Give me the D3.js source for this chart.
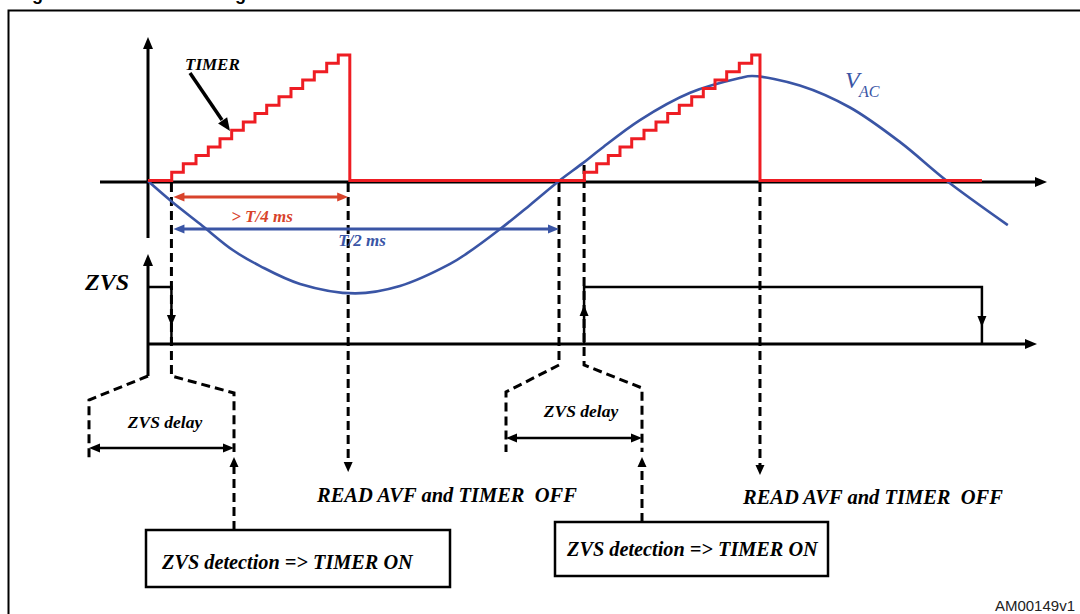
<!DOCTYPE html>
<html><head><meta charset="utf-8">
<script src="https://cdn.jsdelivr.net/npm/d3@7"></script>
<style>body{margin:0;background:#fff}svg{display:block}</style>
</head><body>
<script>
// ---- data (time in ms, VAC normalised to peak) ----
const vacTime  = [0, 0.56, 1.27, 2.07, 2.73, 3.70, 5.04, 6.13, 7.35, 7.76, 8.56, 9.29, 10.0, 10.58, 11.0, 11.97, 13.19, 14.40, 14.70, 15.86, 17.08, 18.30, 19.44, 20.92];
const vacValue = [0, -0.19, -0.41, -0.66, -0.81, -0.98, -1.07, -1.0, -0.79, -0.69, -0.46, -0.23, 0, 0.17, 0.30, 0.58, 0.84, 0.98, 1.0, 0.91, 0.70, 0.37, 0, -0.42];
const timerCount = [1,2,3,4,5,6,7,8,9,10,11,12,13,14,15];
const timer1RiseTime = [0.577, 0.859, 1.168, 1.467, 1.752, 2.036, 2.319, 2.603, 2.888, 3.187, 3.479, 3.764, 4.046, 4.348, 4.630];
const timer2RiseTime = [10.616, 10.917, 11.200, 11.484, 11.769, 12.068, 12.360, 12.645, 12.927, 13.229, 13.511, 13.796, 14.080, 14.387, 14.689];
const timerOffTime = [4.91, 14.89];
const timerEndTime = 20.29;
const zvsEdgeTime = [0.57, 10.61, 20.29];   // fall, rise, fall
const zeroCrossTime = [0, 10];
const readTime = [4.87, 14.89];
const readLabel = "READ AVF and TIMER  OFF";
const detectLabel = "ZVS detection => TIMER ON";
const delayLabel = "ZVS delay";

const W = 1080, H = 614;
const RED = "#ee1d23", BLUE = "#3a55a5", ORANGE = "#d8432b";
const SERIF = "'Liberation Serif','Times New Roman',serif";
const SANS = "'Liberation Sans',Arial,sans-serif";

const svg = d3.select("body").append("svg").attr("width", W).attr("height", H);

const x  = d3.scaleLinear().domain([0, 10]).range([148, 559]);
const yV = d3.scaleLinear().domain([0, 1]).range([181, 76]);
const yT = d3.scaleLinear().domain([0, 15]).range([180.5, 55]);
const yZ = d3.scaleLinear().domain([0, 1]).range([344, 287]);

function poly(pts, color, w, dash) {
  const p = svg.append("path").attr("d", d3.line()(pts)).attr("fill", "none")
    .attr("stroke", color).attr("stroke-width", w).attr("stroke-linejoin", "miter");
  if (dash) p.attr("stroke-dasharray", dash);
  return p;
}
function head(tx, ty, ang, color, len, wid) {
  const c = Math.cos(ang), s = Math.sin(ang);
  const bx = tx - c * len, by = ty - s * len;
  const pts = [[tx, ty], [bx - s * wid / 2, by + c * wid / 2], [bx + s * wid / 2, by - c * wid / 2]];
  svg.append("path").attr("d", d3.line()(pts) + "Z").attr("fill", color).attr("stroke", "none");
}
function dblArrow(x1, x2, y, color, w) {
  poly([[x1 + 6, y], [x2 - 6, y]], color, w);
  head(x1, y, Math.PI, color, 11, 9);
  head(x2, y, 0, color, 11, 9);
}
function text(str, tx, ty, size, opts = {}) {
  return svg.append("text").attr("x", tx).attr("y", ty).text(str)
    .attr("font-family", opts.family || SERIF).attr("font-size", size)
    .attr("font-weight", opts.weight || "bold").attr("font-style", opts.style || "italic")
    .attr("fill", opts.color || "#000").attr("text-anchor", opts.anchor || "start")
    .style("white-space", "pre");
}

// frame & (cropped) title
poly([[8.5, 614], [8.5, 10.5], [1080, 10.5]], "#000", 2);
text("Figure 3.", 16, -0.5, 18, {family: SANS, style: "normal"});
text("ZVS signal detection", 180, -0.5, 18, {family: SANS, style: "normal"});

// ---- top axes ----
poly([[100, 182], [1038, 182]], "#000", 3);
head(1047, 182, 0, "#000", 12, 10);
poly([[x(0), 238], [x(0), 46]], "#000", 3);
head(x(0), 37, -Math.PI / 2, "#000", 12, 10);

// ---- ZVS axes ----
poly([[x(0), 344], [1028, 344]], "#000", 3);
head(1037, 344, 0, "#000", 12, 10);
poly([[x(0), 376], [x(0), 263]], "#000", 3);
head(x(0), 254, -Math.PI / 2, "#000", 12, 10);

// ---- dashed guides ----
const DASH = "9,5";
const z0 = x(zeroCrossTime[0]), z1 = x(zeroCrossTime[1]);
const f1 = x(zvsEdgeTime[0]), r2 = x(zvsEdgeTime[1]);
poly([[z0, 376], [89, 400], [89, 458]], "#000", 3, DASH);
poly([[f1, 183], [f1, 376], [234, 393], [234, 452]], "#000", 3, DASH);
poly([[234, 530], [234, 466]], "#000", 3, DASH);
head(234, 457, -Math.PI / 2, "#000", 10, 9);
poly([[x(readTime[0]), 183], [x(readTime[0]), 462]], "#000", 3, DASH);
head(x(readTime[0]), 472, Math.PI / 2, "#000", 10, 9);
poly([[z1, 183], [z1, 365], [506, 392], [506, 452]], "#000", 3, DASH);
poly([[r2, 165], [r2, 365], [642, 388], [642, 452]], "#000", 3, DASH);
poly([[642, 522], [642, 466]], "#000", 3, DASH);
head(642, 457, -Math.PI / 2, "#000", 10, 9);
poly([[x(readTime[1]), 183], [x(readTime[1]), 465]], "#000", 3, DASH);
head(x(readTime[1]), 475, Math.PI / 2, "#000", 10, 9);

// ---- ZVS signal ----
poly([[x(0), yZ(1)], [f1, yZ(1)], [f1, yZ(0)]], "#000", 2.5);
head(f1, 326, Math.PI / 2, "#000", 11, 9);
const f2 = x(zvsEdgeTime[2]);
poly([[r2, yZ(0)], [r2, yZ(1)], [f2, yZ(1)], [f2, yZ(0)]], "#000", 2.5);
head(r2, 305, -Math.PI / 2, "#000", 11, 9);
head(f2, 327, Math.PI / 2, "#000", 11, 9);

// ---- VAC ----
const vac = vacTime.map((t, i) => [x(t), yV(vacValue[i])]);
svg.append("path").attr("d", d3.line().curve(d3.curveCatmullRom)(vac))
  .attr("fill", "none").attr("stroke", BLUE).attr("stroke-width", 2.6);

// ---- TIMER staircase ----
const tp = [[x(0), yT(0)]];
[timer1RiseTime, timer2RiseTime].forEach((rise, j) => {
  rise.forEach((t, i) => { tp.push([x(t), yT(timerCount[i] - 1)], [x(t), yT(timerCount[i])]); });
  tp.push([x(timerOffTime[j]), yT(15)], [x(timerOffTime[j]), yT(0)]);
});
tp.push([x(timerEndTime), yT(0)]);
poly(tp, RED, 3);

// ---- measurement arrows ----
dblArrow(f1 + 2, x(readTime[0]), 197, ORANGE, 3);
text("> T/4 ms", 262, 222, 17, {color: ORANGE, anchor: "middle"});
dblArrow(f1 + 2, z1, 229, BLUE, 3);
text("T/2 ms", 362, 246, 17, {color: BLUE, anchor: "middle"});
dblArrow(89, 234, 448, "#000", 2.5);
text(delayLabel, 165, 428, 17.5, {anchor: "middle"});
dblArrow(506, 642, 438, "#000", 2.5);
text(delayLabel, 581, 417, 17.5, {anchor: "middle"});

// ---- labels ----
text("TIMER", 185, 70, 17);
poly([[190, 73], [222, 120]], "#000", 3.5);
head(230, 131, Math.atan2(58, 40), "#000", 13, 11);
text("V", 845, 88, 24, {weight: "normal", color: BLUE});
text("AC", 859, 97, 16, {weight: "normal", color: BLUE});
text("ZVS", 85, 290, 24);
text(readLabel, 317, 502, 20.5);
text(readLabel, 743, 504, 20.5);

// ---- boxes ----
svg.append("rect").attr("x", 146).attr("y", 530).attr("width", 304).attr("height", 57)
  .attr("fill", "none").attr("stroke", "#000").attr("stroke-width", 2.5);
text(detectLabel, 162, 569, 20.3);
svg.append("rect").attr("x", 555).attr("y", 522).attr("width", 273).attr("height", 54)
  .attr("fill", "none").attr("stroke", "#000").attr("stroke-width", 2.5);
text(detectLabel, 567, 556, 20.3);

text("AM00149v1", 1075, 611, 15, {family: SANS, weight: "normal", style: "normal", anchor: "end", color: "#222"});
</script>
</body></html>
